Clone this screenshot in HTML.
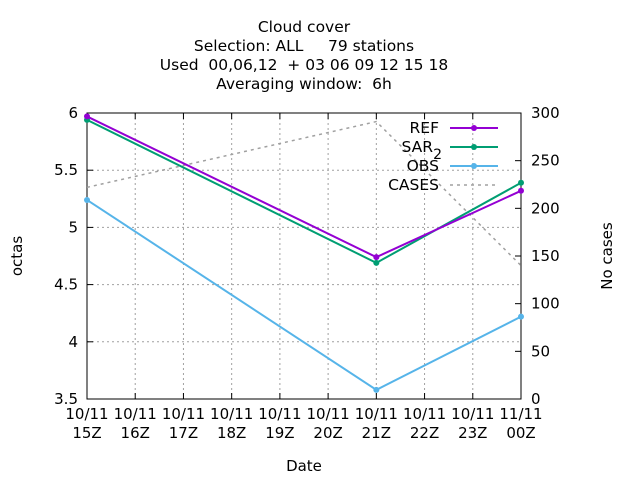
<!DOCTYPE html>
<html><head><meta charset="utf-8"><style>body{margin:0;background:#fff}svg{font-family:"DejaVu Sans","Liberation Sans",sans-serif}svg text{white-space:pre}</style></head>
<body>
<svg id="c" width="640" height="480" xmlns="http://www.w3.org/2000/svg">
<g font-size="15.5" text-anchor="middle" fill="#000">
<text x="304" y="32" xml:space="preserve">Cloud cover</text>
<text x="304" y="51" xml:space="preserve">Selection: ALL     79 stations</text>
<text x="304" y="70" xml:space="preserve">Used  00,06,12  + 03 06 09 12 15 18</text>
<text x="304" y="89" xml:space="preserve">Averaging window:  6h</text>
</g>
<g id="grid"></g><g id="axes"></g><g id="series"></g>
<text x="22" y="256" font-size="15" text-anchor="middle" transform="rotate(-90 22 256)">octas</text>
<text x="612" y="256" font-size="15" text-anchor="middle" transform="rotate(-90 612 256)">No cases</text>
<text x="304" y="471" font-size="15" text-anchor="middle">Date</text>
<g id="legend" font-size="15.5" text-anchor="end"></g>
</svg>
<script>
const xLabels=["10/11\n15Z","10/11\n16Z","10/11\n17Z","10/11\n18Z","10/11\n19Z","10/11\n20Z","10/11\n21Z","10/11\n22Z","10/11\n23Z","11/11\n00Z"];
const yTicks=[3.5,4,4.5,5,5.5,6];
const y2Ticks=[0,50,100,150,200,250,300];
const hours=[0,6,9];
const refVals=[5.97,4.74,5.32];
const sarVals=[5.94,4.69,5.39];
const obsVals=[5.24,3.58,4.22];
const casesVals=[222,291,140];
const L=87,R=521,T=113,B=399;
const NS="http://www.w3.org/2000/svg";
const xs=h=>L+(R-L)*h/9, ys=v=>B-(B-T)*(v-3.5)/2.5, y2s=v=>B-(B-T)*v/300;
function mk(t,a,p){const e=document.createElementNS(NS,t);for(const k in a)e.setAttribute(k,a[k]);p.appendChild(e);return e;}
const g=document.getElementById('grid'),ax=document.getElementById('axes'),se=document.getElementById('series'),lg=document.getElementById('legend');
xLabels.forEach((lab,i)=>{const x=xs(i);
 if(i>0&&i<9){const l=mk('line',{x1:x,x2:x,y1:T,y2:B,stroke:'#a0a0a0','stroke-dasharray':'2,3'},g);}
 mk('line',{x1:x,x2:x,y1:B,y2:B-6,stroke:'#000'},ax);mk('line',{x1:x,x2:x,y1:T,y2:T+6,stroke:'#000'},ax);
 const [a,b]=lab.split('\n');const t=mk('text',{x:x,y:B+20,'font-size':15,'text-anchor':'middle'},ax);t.textContent=a;
 
 const t2=mk('text',{x:x,y:B+39,'font-size':15,'text-anchor':'middle'},ax);t2.textContent=b;
 });
yTicks.forEach(v=>{const y=ys(v);
 if(v>3.5&&v<6){const l=mk('line',{x1:L,x2:R,y1:y,y2:y,stroke:'#a0a0a0','stroke-dasharray':'2,3'},g);}
 mk('line',{x1:L,x2:L+6,y1:y,y2:y,stroke:'#000'},ax);
 const t=mk('text',{x:L-9,y:y+5,'font-size':15,'text-anchor':'end'},ax);t.textContent=v;
 });
y2Ticks.forEach(v=>{const y=y2s(v);mk('line',{x1:R,x2:R-6,y1:y,y2:y,stroke:'#000'},ax);
 const t=mk('text',{x:R+10,y:y+5,'font-size':15,'text-anchor':'start'},ax);t.textContent=v;
 });
const fr=mk('rect',{x:L,y:T,width:R-L,height:B-T,fill:'none',stroke:'#000'},ax);

function series(vals,sc,col,name,dash,pts){const p=mk('polyline',{points:vals.map((v,i)=>xs(hours[i])+','+sc(v)).join(' '),fill:'none',stroke:col,'stroke-width':dash?1.5:2,'stroke-dasharray':dash?'3,4':'none'},se);
 
 if(pts)vals.forEach((v,i)=>{const c=mk('circle',{cx:xs(hours[i]),cy:sc(v),r:3,fill:col},se);});}
series(casesVals,y2s,'#a0a0a0','cases',true,false);
series(obsVals,ys,'#56b4e9','obs',false,true);
series(sarVals,ys,'#009e73','sar2',false,true);
series(refVals,ys,'#9400d3','ref',false,true);
[['REF','#9400d3',0],['SAR','#009e73',0],['OBS','#56b4e9',0],['CASES','#a0a0a0',1]].forEach((d,i)=>{const y=128+i*19;
 const t=mk('text',{x:i==1?433:439,y:y+5},lg);t.textContent=d[0];
 if(i==1){const s=mk('text',{x:442,y:y+12,'text-anchor':'end','font-size':14},lg);s.textContent='2';}
 const l=mk('line',{x1:450,x2:498,y1:y,y2:y,stroke:d[1],'stroke-width':d[2]?1.5:2,'stroke-dasharray':d[2]?'3,4':'none'},lg);
 
 if(!d[2])mk('circle',{cx:474,cy:y,r:3,fill:d[1]},lg);});
</script>
</body></html>
